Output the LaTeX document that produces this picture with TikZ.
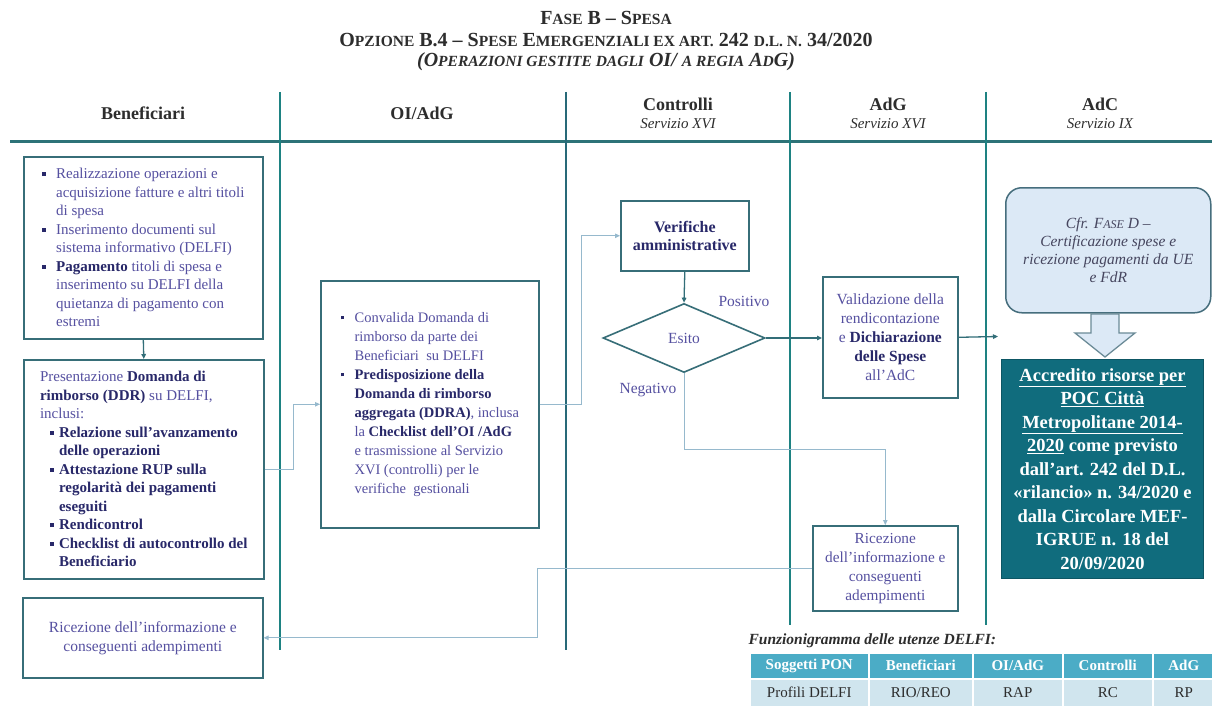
\documentclass[tikz,border=0pt]{standalone}
\usepackage{fontspec}
\setmainfont{Liberation Serif}
\usetikzlibrary{arrows.meta,shapes.geometric}

\definecolor{txtc}{RGB}{85,80,160}
\definecolor{boldc}{RGB}{40,40,105}
\definecolor{boxc}{RGB}{55,110,120}
\definecolor{lanec}{RGB}{30,130,130}
\definecolor{lanedk}{RGB}{40,105,120}
\definecolor{hdrline}{RGB}{45,115,120}
\definecolor{ltc}{RGB}{150,185,205}
\definecolor{dkc}{RGB}{50,110,120}
\definecolor{tealf}{RGB}{16,108,125}
\definecolor{cfrf}{RGB}{220,233,246}
\definecolor{cfrd}{RGB}{70,110,125}
\definecolor{cfrt}{RGB}{70,70,95}
\definecolor{tabh}{RGB}{75,172,198}
\definecolor{tabr}{RGB}{208,229,238}
\definecolor{titc}{RGB}{45,45,45}

% fake small caps: capitals typed in upper case at a smaller size
\newcommand\sct[1]{{\fontsize{15.5}{18}\selectfont #1}}
\newcommand\B[1]{{\bfseries\color{boldc}#1}}
\newcommand\sq{\raisebox{2.8pt}{\rule{3.8pt}{3.8pt}}}
\newcommand\bl{\makebox[14pt][l]{\color{boldc}\sq}}
\newcommand\ind{\hspace*{14pt}}
\newcommand\bli{\hspace*{10pt}\makebox[9pt][l]{\color{boldc}\sq}}
\newcommand\indi{\hspace*{19pt}}

\begin{document}
\begin{tikzpicture}[x=1pt,y=-1pt,
  >={Triangle[length=5pt,width=4.5pt]},
  box/.style={draw=boxc, line width=1.6pt, fill=white, inner sep=0pt,
    anchor=north west, text=txtc, font=\fontsize{15}{18.5}\selectfont},
  lane/.style={draw=lanec, line width=2.5pt},
  hdr/.style={text=titc, font=\fontsize{18}{20}\selectfont\bfseries},
  sub/.style={text=titc, font=\fontsize{15}{17}\selectfont\itshape},
  lt/.style={draw=ltc, line width=1pt, ->},
  dk/.style={draw=dkc, line width=1.3pt, ->},
  lbl/.style={text=txtc, font=\fontsize{15.5}{18}\selectfont},
  th/.style={fill=tabh, draw=white, line width=1.5pt, anchor=north west,
    inner sep=0pt, minimum height=26pt, text=white,
    font=\fontsize{15}{17}\selectfont\bfseries},
  td/.style={fill=tabr, draw=white, line width=1.5pt, anchor=north west,
    inner sep=0pt, minimum height=28pt, text=titc,
    font=\fontsize{15}{17}\selectfont},
  ttl/.style={text=titc, font=\fontsize{20}{22}\selectfont\bfseries}
]
\useasboundingbox (0,0) rectangle (1212,706);
\fill[white] (0,0) rectangle (1212,706);

% title
\node[ttl] (t1) at (606,18) {F\sct{ASE} B – S\sct{PESA}};
\node[ttl] (t2) at (606,40) {O\sct{PZIONE} B.4 – S\sct{PESE} E\sct{MERGENZIALI EX ART.} 242 \sct{D.L. N.} 34/2020};
\node[ttl, font=\fontsize{20}{22}\selectfont\bfseries\itshape] (t3) at (606,62) {(O\sct{PERAZIONI GESTITE DAGLI} OI/ \sct{A REGIA} A\sct{D}G)};

% swimlanes
\draw[draw=hdrline, line width=3pt] (10,141) -- (1212,141);
\draw[lane] (280,92) -- (280,650);
\draw[lane, draw=lanedk] (566,92) -- (566,650);
\draw[lane] (790,92) -- (790,625);
\draw[lane] (986,92) -- (986,625);

\node[hdr] (h1) at (143,113) {Beneficiari};
\node[hdr] (h2) at (422,113) {OI/AdG};
\node[hdr] (h3) at (678,104) {Controlli};
\node[sub] (s3) at (678,124) {Servizio XVI};
\node[hdr] (h4) at (888,104) {AdG};
\node[sub] (s4) at (888,124) {Servizio XVI};
\node[hdr] (h5) at (1100,104) {AdC};
\node[sub] (s5) at (1100,124) {Servizio IX};

% Beneficiari
\node[box, minimum width=239pt, minimum height=182pt, align=left] (b1) at (23,156)
 {\bl Realizzazione operazioni e\\
  \ind acquisizione fatture e altri titoli\\
  \ind di spesa\\
  \bl Inserimento documenti sul\\
  \ind sistema informativo (DELFI)\\
  \bl \B{Pagamento} titoli di spesa e\\
  \ind inserimento su DELFI della\\
  \ind quietanza di pagamento con\\
  \ind estremi};

\node[box, minimum width=240pt, minimum height=219pt, align=left] (b2) at (23,359)
 {Presentazione \B{Domanda di}\\
  \B{rimborso (DDR)} su DELFI,\\
  inclusi:\\
  \bli\B{Relazione sull'avanzamento}\\
  \indi\B{delle operazioni}\\
  \bli\B{Attestazione RUP sulla}\\
  \indi\B{regolarità dei pagamenti}\\
  \indi\B{eseguiti}\\
  \bli\B{Rendicontrol}\\
  \bli\B{Checklist di autocontrollo del}\\
  \indi\B{Beneficiario}};

\node[box, minimum width=240pt, minimum height=80pt, align=center,
  font=\fontsize{15.5}{19}\selectfont] (ric1) at (22,597)
 {Ricezione dell'informazione e\\ conseguenti adempimenti};

% OI/AdG
\node[box, minimum width=218pt, minimum height=247pt, align=left,
  font=\fontsize{14.5}{19}\selectfont] (b3) at (320,280)
 {\bl Convalida Domanda di\\
  \ind rimborso da parte dei\\
  \ind Beneficiari\ \ su DELFI\\
  \bl \B{Predisposizione della}\\
  \ind \B{Domanda di rimborso}\\
  \ind \B{aggregata (DDRA)}, inclusa\\
  \ind la \B{Checklist dell'OI /AdG}\\
  \ind e trasmissione al Servizio\\
  \ind XVI (controlli) per le\\
  \ind verifiche\ \ gestionali};

% Controlli
\node[box, minimum width=128pt, minimum height=70pt, align=center,
  font=\fontsize{16}{18}\selectfont\bfseries, text=boldc] (ver) at (620,200)
 {Verifiche\\ amministrative};
\node[draw=boxc, line width=1.6pt, fill=white, diamond, shape aspect=2.35,
  minimum width=162pt, minimum height=69pt, inner sep=0pt, text=txtc,
  font=\fontsize{15.5}{18}\selectfont] (esito) at (684,338) {Esito};
\node[lbl] (pos) at (744,301) {Positivo};
\node[lbl] (neg) at (648,390) {Negativo};

% AdG
\node[box, minimum width=135pt, minimum height=121pt, align=center,
  font=\fontsize{15.5}{19}\selectfont] (val) at (822,276)
 {Validazione della\\ rendicontazione\\ e \B{Dichiarazione}\\ \B{delle Spese}\\ all'AdC};
\node[box, minimum width=145pt, minimum height=85pt, align=center,
  font=\fontsize{15.3}{19}\selectfont] (ric2) at (812,525)
 {Ricezione\\ dell'informazione e\\ conseguenti\\ adempimenti};

% AdC
\node[draw=cfrd, line width=1.5pt, fill=cfrf, rounded corners=16pt, anchor=north west,
  minimum width=205pt, minimum height=125pt, inner sep=0pt, align=center, text=cfrt,
  font=\fontsize{15.5}{18}\selectfont\itshape] (cfr) at (1005,187)
 {Cfr. F{\fontsize{12}{14}\selectfont ASE} D –\\ Certificazione spese e\\ ricezione pagamenti da UE\\ e FdR};
\node[fill=tealf, draw=tealf!80!black, line width=1pt, anchor=north west,
  minimum width=202pt, minimum height=219pt, inner sep=0pt, align=center, text=white,
  font=\fontsize{18.5}{23.5}\selectfont\bfseries] (acc) at (1001,359)
 {\underline{Accredito risorse per}\\ \underline{POC Città}\\ \underline{Metropolitane 2014-}\\
  \underline{2020} come previsto\\ dall'art. 242 del D.L.\\ «rilancio» n. 34/2020 e\\
  dalla Circolare MEF-\\ IGRUE n. 18 del\\ 20/09/2020};
\draw[draw=cfrd!80, fill=cfrf, line width=1.3pt, line join=miter]
  (1091,314) -- (1119,314) -- (1119,333) -- (1135,333) -- (1105,357)
  -- (1075,333) -- (1091,333) -- cycle;

% flow
\coordinate (vout) at (998,336.5);
\coordinate (negc) at (684,449);
\draw[dk] (b1.south) -- (b2.north);
\draw[lt] (b2.east) -- ++(29,0) |- (b3.west);
\draw[lt] (b3.east) -- ++(42,0) |- (ver.west);
\draw[dk] (ver.south) -- (esito.north);
\draw[dk] (esito.east) -- (esito.east -| val.west);
\draw[dk] (val.east) -- (vout);
\draw[lt] (esito.south) -- (negc) -| (ric2.north);
\draw[lt] (ric2.west) -- ++(-275,0) |- (ric1.east);

% DELFI user profiles
\node[anchor=west, text=titc, font=\fontsize{15.5}{17}\selectfont\bfseries\itshape] (ftit) at (745,641)
 {Funzionigramma delle utenze DELFI:};
\node[th, minimum width=119pt] (c11) at (749,652) {Soggetti PON};
\node[th, minimum width=104pt] (c12) at (868,652) {Beneficiari};
\node[th, minimum width=90pt] (c13) at (972,652) {OI/AdG};
\node[th, minimum width=90pt] (c14) at (1062,652) {Controlli};
\node[th, minimum width=62pt] (c15) at (1152,652) {AdG};
\node[td, minimum width=119pt] (c21) at (749,678) {Profili DELFI};
\node[td, minimum width=104pt] (c22) at (868,678) {RIO/REO};
\node[td, minimum width=90pt] (c23) at (972,678) {RAP};
\node[td, minimum width=90pt] (c24) at (1062,678) {RC};
\node[td, minimum width=62pt] (c25) at (1152,678) {RP};
\end{tikzpicture}
\end{document}
